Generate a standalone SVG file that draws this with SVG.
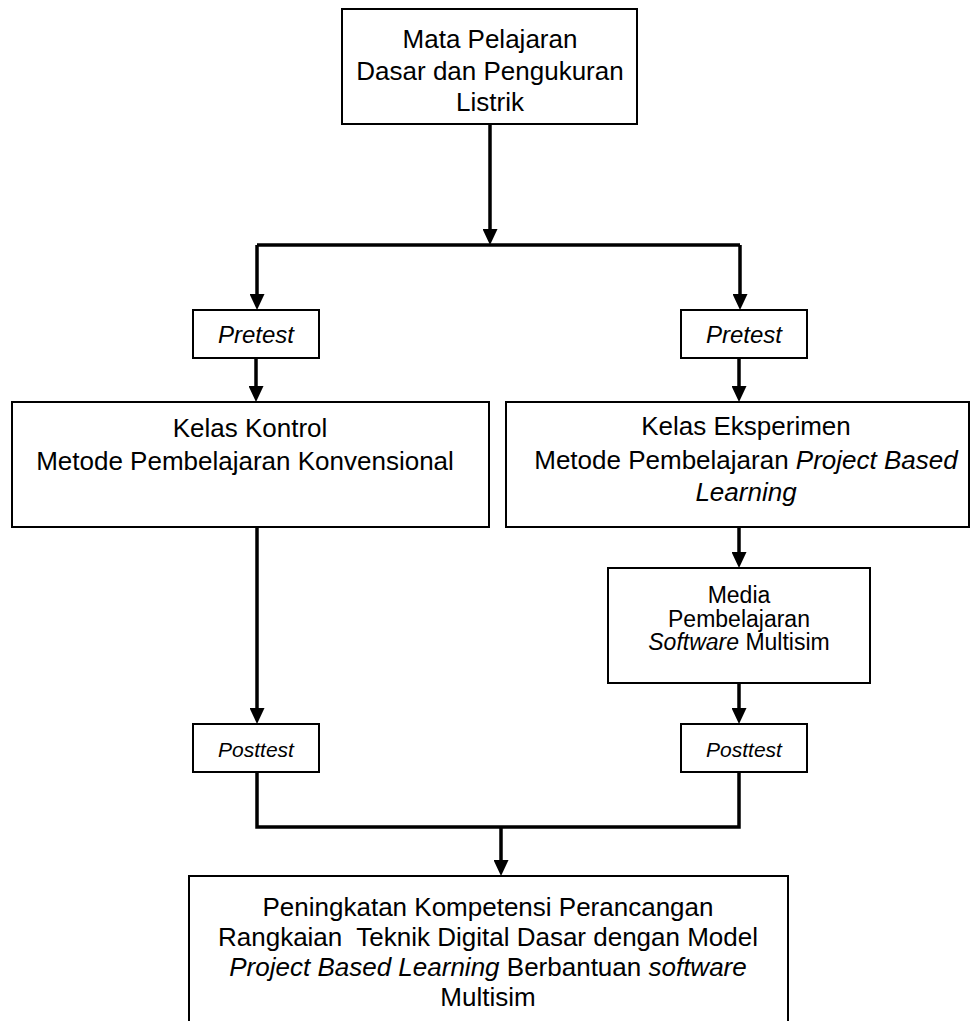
<svg xmlns="http://www.w3.org/2000/svg" width="976" height="1021" viewBox="0 0 976 1021">
<defs>
<marker id="arr" markerUnits="userSpaceOnUse" markerWidth="16" markerHeight="15" viewBox="0 0 16 15" refX="8" refY="7.5" orient="auto">
<path d="M0,0 L16,7.5 L0,15 Z" fill="#000"/>
</marker>
</defs>
<style>
.box{fill:#fff;stroke:#000;stroke-width:2}
.t{font-family:"Liberation Sans",Arial,sans-serif;font-size:26px;fill:#000;text-anchor:middle}
.i{font-style:italic}
.c{fill:none;stroke:#000;stroke-width:3.5}
</style>
<rect width="976" height="1021" fill="#fff"/>
<g id="connectors">
<path class="c" d="M490 124 V237" marker-end="url(#arr)"/>
<path class="c" d="M257 245 H740"/>
<path class="c" d="M257 245 V302" marker-end="url(#arr)"/>
<path class="c" d="M740 245 V302" marker-end="url(#arr)"/>
<path class="c" d="M256 358 V394" marker-end="url(#arr)"/>
<path class="c" d="M739 358 V394" marker-end="url(#arr)"/>
<path class="c" d="M739 527 V560" marker-end="url(#arr)"/>
<path class="c" d="M739 683 V716" marker-end="url(#arr)"/>
<path class="c" d="M257 527 V716" marker-end="url(#arr)"/>
<path class="c" d="M257 772 V827 H739 V772"/>
<path class="c" d="M501 827 V868" marker-end="url(#arr)"/>
</g>
<g id="mata-pelajaran">
<rect class="box" x="342" y="9" width="295" height="115"/>
<text class="t" x="490" y="48">Mata Pelajaran</text>
<text class="t" x="490" y="80">Dasar dan Pengukuran</text>
<text class="t" x="490" y="111">Listrik</text>
</g>
<g id="pretest-kontrol">
<rect class="box" x="193" y="310" width="126" height="48"/>
<text class="t i" x="256" y="343" style="font-size:24px">Pretest</text>
</g>
<g id="pretest-eksperimen">
<rect class="box" x="681" y="310" width="126" height="48"/>
<text class="t i" x="744" y="343" style="font-size:24px">Pretest</text>
</g>
<g id="kelas-kontrol">
<rect class="box" x="12" y="402" width="477" height="125"/>
<text class="t" x="250" y="437">Kelas Kontrol</text>
<text class="t" x="245" y="470">Metode Pembelajaran Konvensional</text>
</g>
<g id="kelas-eksperimen">
<rect class="box" x="506" y="402" width="463" height="125"/>
<text class="t" x="746" y="435">Kelas Eksperimen</text>
<text class="t" x="746" y="469">Metode Pembelajaran <tspan class="i">Project Based</tspan></text>
<text class="t i" x="746" y="501">Learning</text>
</g>
<g id="media">
<rect class="box" x="608" y="568" width="262" height="115"/>
<text class="t" x="739" y="603" style="font-size:23px">Media</text>
<text class="t" x="739" y="627" style="font-size:23px">Pembelajaran</text>
<text class="t" x="739" y="650" style="font-size:23px"><tspan class="i">Software</tspan> Multisim</text>
</g>
<g id="posttest-kontrol">
<rect class="box" x="193" y="724" width="126" height="48"/>
<text class="t i" x="256" y="757" style="font-size:21px">Posttest</text>
</g>
<g id="posttest-eksperimen">
<rect class="box" x="681" y="724" width="126" height="48"/>
<text class="t i" x="744" y="757" style="font-size:21px">Posttest</text>
</g>
<g id="hasil">
<rect class="box" x="189" y="876" width="599" height="160"/>
<text class="t" x="488" y="916">Peningkatan Kompetensi Perancangan</text>
<text class="t" x="488" y="946" xml:space="preserve">Rangkaian  Teknik Digital Dasar dengan Model</text>
<text class="t" x="488" y="976"><tspan class="i">Project Based Learning</tspan> Berbantuan <tspan class="i">software</tspan></text>
<text class="t" x="488" y="1006">Multisim</text>
</g>
</svg>
